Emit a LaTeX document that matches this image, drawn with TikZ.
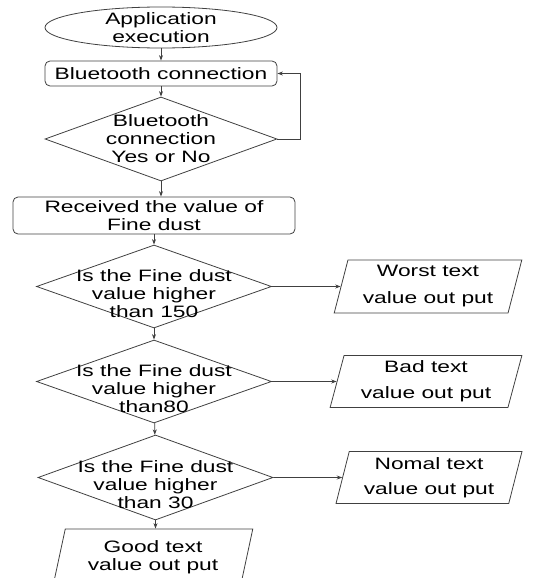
\documentclass[tikz,border=0pt]{standalone}
\usepackage{fontspec}
\setmainfont[FakeStretch=1.38]{Liberation Sans}
\usetikzlibrary{shapes.geometric,arrows.meta}
\begin{document}
\begin{tikzpicture}[x=1pt,y=1pt,
  every node/.style={font=\fontsize{16.5}{18}\selectfont, text=black},
  lbl/.style={align=center, inner sep=0pt},
  ln/.style={draw=black!75, line width=0.8pt},
  arr/.style={ln, -{Stealth[length=5.5pt,width=4pt]}},
  term/.style={ellipse, ln, inner sep=0pt},
  proc/.style={rectangle, rounded corners=5pt, ln, inner sep=0pt, align=center},
  dec/.style={diamond, ln, inner sep=0pt},
  io/.style={trapezium, trapezium left angle=75, trapezium right angle=105,
    trapezium stretches=true, ln, inner sep=0pt, align=center}]
\useasboundingbox (0,0) rectangle (545,-578);
\node[term, minimum width=232pt, minimum height=41pt,
  label={[lbl]center:Application\\execution}] (start) at (161,-27.5) {};
\node[proc, minimum width=232pt, minimum height=25pt] (bt) at (161,-73.5) {Bluetooth connection};
\node[dec, minimum width=232pt, minimum height=84pt,
  label={[lbl]center:Bluetooth\\connection\\Yes or No}] (d1) at (161,-139) {};
\node[proc, minimum width=282pt, minimum height=37pt] (rcv) at (154,-215.5) {Received the value of\\Fine dust};
\node[dec, minimum width=235pt, minimum height=83pt,
  label={[lbl,yshift=-7pt]center:Is the Fine dust\\value higher\\than 150}] (d2) at (154,-286.5) {};
\node[io, minimum width=188pt, minimum height=53pt] (worst) at (428,-286.5) {Worst text\\[9pt]value out put};
\node[dec, minimum width=235pt, minimum height=83pt,
  label={[lbl,yshift=-7pt]center:Is the Fine dust\\value higher\\than80}] (d3) at (154,-381.5) {};
\node[io, minimum width=192pt, minimum height=52pt] (bad) at (426,-381.5) {Bad text\\[8pt]value out put};
\node[dec, minimum width=235pt, minimum height=85pt,
  label={[lbl,yshift=-7pt]center:Is the Fine dust\\value higher\\than 30}] (d4) at (155.5,-477.5) {};
\node[io, minimum width=186pt, minimum height=52pt] (nomal) at (429,-477.5) {Nomal text\\[7pt]value out put};
\node[io, minimum width=200pt, minimum height=56pt] (good) at (153,-557) {Good text\\value out put};

\draw[arr] (start) -- (bt);
\draw[arr] (bt) -- (d1);
\draw[arr] (d1.east) -- ++(23,0) |- (bt.east);
\draw[arr] (d1.south) -- (d1.south |- rcv.north);
\draw[arr] (rcv) -- (d2);
\draw[arr] (d2.east) -- (worst);
\draw[arr] (d2) -- (d3);
\draw[arr] (d3.east) -- (bad);
\draw[arr] (d3) -- (d4);
\draw[arr] (d4.east) -- (nomal);
\draw[arr] (d4.south) -- (d4.south |- good.north);
\end{tikzpicture}
\end{document}
